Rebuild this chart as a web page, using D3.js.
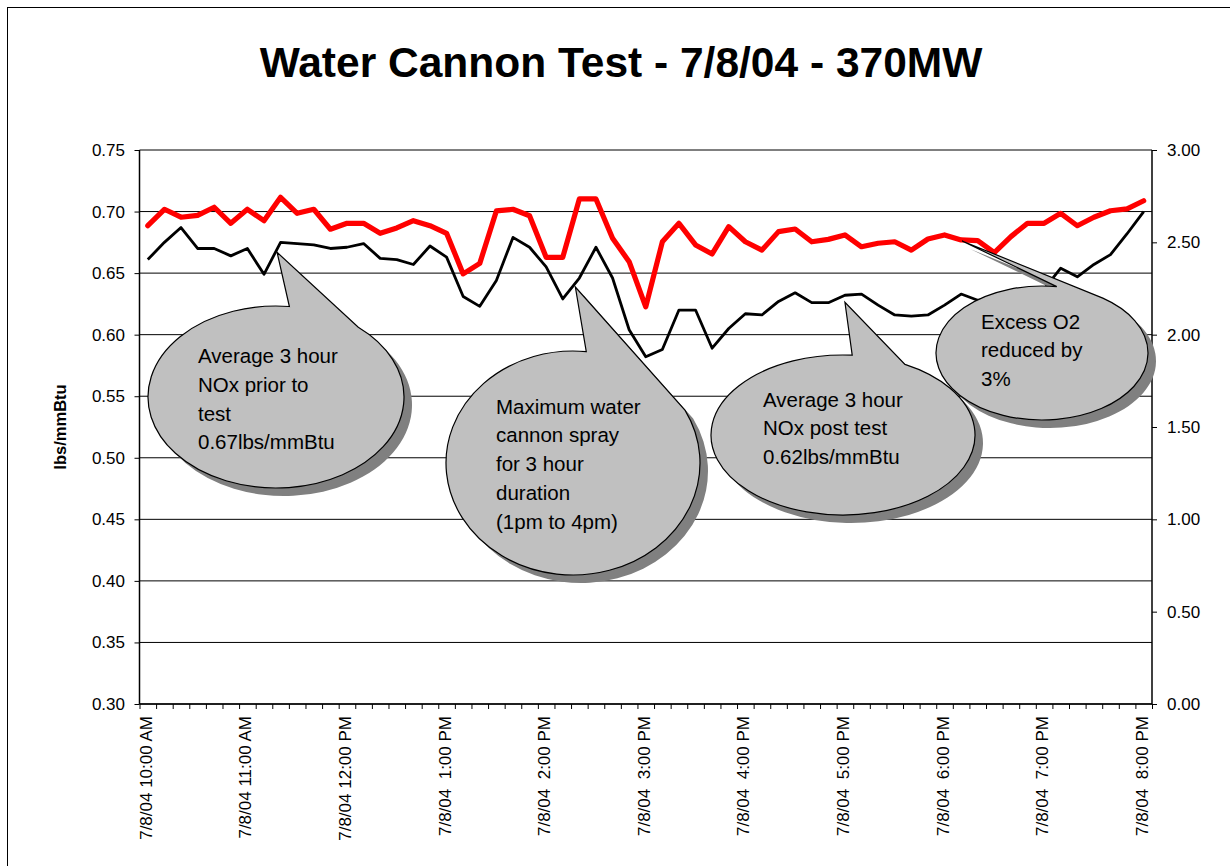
<!DOCTYPE html>
<html><head><meta charset="utf-8">
<script src="https://cdn.jsdelivr.net/npm/d3@7"></script>
<style>
body{margin:0;background:#fff;}
svg{display:block;font-family:"Liberation Sans",Arial,Helvetica,sans-serif;}
</style></head><body>
<svg id="c" width="1230" height="866"></svg>
<script>
// ---------- DATA ----------
const categories = [
 "10:00","10:10","10:20","10:30","10:40","10:50",
 "11:00","11:10","11:20","11:30","11:40","11:50",
 "12:00","12:10","12:20","12:30","12:40","12:50",
 "13:00","13:10","13:20","13:30","13:40","13:50",
 "14:00","14:10","14:20","14:30","14:40","14:50",
 "15:00","15:10","15:20","15:30","15:40","15:50",
 "16:00","16:10","16:20","16:30","16:40","16:50",
 "17:00","17:10","17:20","17:30","17:40","17:50",
 "18:00","18:10","18:20","18:30","18:40","18:50",
 "19:00","19:10","19:20","19:30","19:40","19:50",
 "20:00"];
const tickCategories = ["10:00","11:00","12:00","13:00","14:00","15:00","16:00","17:00","18:00","19:00","20:00"];
const tickLabels = ["7/8/04 10:00 AM","7/8/04 11:00 AM","7/8/04 12:00 PM","7/8/04  1:00 PM","7/8/04  2:00 PM",
 "7/8/04  3:00 PM","7/8/04  4:00 PM","7/8/04  5:00 PM","7/8/04  6:00 PM","7/8/04  7:00 PM","7/8/04  8:00 PM"];
// NOx, lbs/mmBtu (left axis, black)
const noxValues = [
 0.661,0.675,0.687,0.670,0.670,0.664,0.670,0.649,0.675,0.674,
 0.673,0.670,0.671,0.674,0.662,0.661,0.657,0.672,0.663,0.631,
 0.623,0.644,0.679,0.671,0.655,0.629,0.646,0.671,0.646,0.604,
 0.582,0.588,0.620,0.620,0.589,0.605,0.617,0.616,0.627,0.634,
 0.626,0.626,0.632,0.633,0.624,0.616,0.615,0.616,0.624,0.633,
 0.628,0.628,0.625,0.634,0.637,0.654,0.647,0.657,0.665,0.682,
 0.700];
// Excess O2 (right axis, red)
const o2Values = [
 2.590,2.679,2.636,2.646,2.690,2.603,2.679,2.617,2.744,2.657,
 2.679,2.571,2.603,2.603,2.549,2.578,2.617,2.590,2.549,2.329,
 2.386,2.670,2.679,2.644,2.419,2.419,2.735,2.735,2.522,2.395,
 2.151,2.503,2.603,2.486,2.437,2.585,2.503,2.458,2.558,2.572,
 2.503,2.516,2.540,2.476,2.495,2.503,2.458,2.518,2.540,2.513,
 2.509,2.444,2.531,2.603,2.603,2.657,2.590,2.636,2.671,2.681,
 2.725];
const leftTicks = [0.30,0.35,0.40,0.45,0.50,0.55,0.60,0.65,0.70,0.75];
const rightTicks = [0.00,0.50,1.00,1.50,2.00,2.50,3.00];
const titleText = "Water Cannon Test - 7/8/04 - 370MW";
const yTitle = "lbs/mmBtu";
const calloutTexts = [
 ["Average 3 hour","NOx prior to","test","0.67lbs/mmBtu"],
 ["Maximum water","cannon spray","for 3 hour","duration","(1pm to 4pm)"],
 ["Average 3 hour","NOx post test","0.62lbs/mmBtu"],
 ["Excess O2","reduced by","3%"]];
const calloutTargets = [
 {series:"nox", cat:"11:20"},
 {series:"nox", cat:"14:20"},
 {series:"nox", cat:"17:00"},
 {series:"o2",  cat:"18:10"}];

// ---------- LAYOUT ----------
const W = 1230, H = 866;
const plot = {left:139.5, right:1152, top:150, bottom:704};
const calloutLayout = [
 {cx:276, cy:397, rx:128, ry:91,  a0:-84, a1:-50, dx:-3.5, dy:10, tx:198, ty:363},
 {cx:573, cy:463, rx:127, ry:112, a0:-84, a1:-28, dx:-4,   dy:9,  tx:496, ty:413.5},
 {cx:843, cy:435, rx:132, ry:80,  a0:-86, a1:-62, dx:0,    dy:7,  tx:763, ty:406.5},
 {cx:1042,cy:353, rx:106, ry:67,  a0:-82, a1:-55, dx:1,    dy:1,  tx:981, ty:328.5}];

const svg = d3.select("#c");
svg.append("rect").attr("width",W).attr("height",H).attr("fill","#fff");
svg.append("rect").attr("x",7.5).attr("y",7.5).attr("width",W+20).attr("height",H+20)
  .attr("fill","none").attr("stroke","#000").attr("stroke-width",1);

const x = d3.scaleBand().domain(categories).range([plot.left, plot.right]).paddingInner(0).paddingOuter(0);
const xc = c => x(c) + x.bandwidth()/2;
const xTick = d3.scaleLinear().domain([0, categories.length]).range([plot.left, plot.right]);
const yL = d3.scaleLinear().domain([0.30,0.75]).range([plot.bottom, plot.top]);
const yR = d3.scaleLinear().domain([0,3]).range([plot.bottom, plot.top]);

// gridlines
svg.append("g").selectAll("line").data(leftTicks).join("line")
  .attr("x1",plot.left).attr("x2",plot.right)
  .attr("y1",d=>yL(d)).attr("y2",d=>yL(d))
  .attr("stroke","#000").attr("stroke-width",1);

// axes
const fmt = d3.format(".2f");
const gL = svg.append("g").attr("transform",`translate(${plot.left},0)`)
  .call(d3.axisLeft(yL).tickValues(leftTicks).tickFormat(fmt).tickSize(5).tickPadding(9.5));
const gR = svg.append("g").attr("transform",`translate(${plot.right},0)`)
  .call(d3.axisRight(yR).tickValues(rightTicks).tickFormat(fmt).tickSize(5).tickPadding(10));
const gB = svg.append("g").attr("transform",`translate(0,${plot.bottom})`)
  .call(d3.axisBottom(xTick).tickValues(d3.range(categories.length+1)).tickFormat("").tickSize(5).tickSizeOuter(0));
[gL,gR,gB].forEach(g=>{
  g.select(".domain").attr("stroke","#000").attr("stroke-width",1.5);
  g.selectAll(".tick line").attr("stroke","#000").attr("stroke-width",1);
  g.selectAll("text").attr("font-family",'"Liberation Sans",Arial,sans-serif').attr("font-size",17).attr("fill","#000");
});
gL.select(".domain").attr("d",`M0,${plot.top}V${plot.bottom}`);
gR.select(".domain").attr("d",`M0,${plot.top}V${plot.bottom}`);
gB.select(".domain").attr("d",`M${plot.left},0H${plot.right}`);

// x labels
svg.append("g").selectAll("text").data(tickCategories).join("text")
  .attr("transform",(d)=>`translate(${xc(d)+4},716) rotate(-90)`)
  .attr("text-anchor","end").attr("font-size",17).style("white-space","pre")
  .text((d,i)=>tickLabels[i]);

// lines
const lineNox = d3.line().x((d,i)=>xc(categories[i])).y(d=>yL(d));
const lineO2 = d3.line().x((d,i)=>xc(categories[i])).y(d=>yR(d));
svg.append("path").datum(noxValues).attr("d",lineNox)
  .attr("fill","none").attr("stroke","#000").attr("stroke-width",2.8).attr("stroke-linejoin","round");
svg.append("path").datum(o2Values).attr("d",lineO2)
  .attr("fill","none").attr("stroke","#ff0000").attr("stroke-width",5.2).attr("stroke-linejoin","round").attr("stroke-linecap","round");

// callouts
function calloutPath(L, tx, ty){
  const r = Math.PI/180;
  const ax = L.cx + L.rx*Math.cos(L.a0*r), ay = L.cy + L.ry*Math.sin(L.a0*r);
  const bx = L.cx + L.rx*Math.cos(L.a1*r), by = L.cy + L.ry*Math.sin(L.a1*r);
  return `M${ax},${ay}L${tx},${ty}L${bx},${by}A${L.rx},${L.ry} 0 1 1 ${ax},${ay}Z`;
}
calloutTargets.forEach((t,k)=>{
  const L = calloutLayout[k];
  const i = categories.indexOf(t.cat);
  const px = xc(t.cat) + L.dx;
  const py = (t.series==="nox" ? yL(noxValues[i]) : yR(o2Values[i])) + L.dy;
  const d = calloutPath(L, px, py);
  const g = svg.append("g");
  g.append("path").attr("d",d).attr("transform","translate(8,8)").attr("fill","#808080");
  g.append("path").attr("d",d).attr("fill","#c0c0c0").attr("stroke","#000").attr("stroke-width",1.2);
  g.append("g").selectAll("text").data(calloutTexts[k]).join("text")
    .attr("x",L.tx).attr("y",(d,j)=>L.ty + j*28.8)
    .attr("font-size",20.5).attr("fill","#000").text(d=>d);
});

// titles
svg.append("text").attr("x",621).attr("y",77).attr("text-anchor","middle")
  .attr("font-size",42.5).attr("font-weight","bold").text(titleText);
svg.append("text").attr("transform","translate(66,427) rotate(-90)").attr("text-anchor","middle")
  .attr("font-size",16.5).attr("font-weight","bold").text(yTitle);
</script>
</body></html>
